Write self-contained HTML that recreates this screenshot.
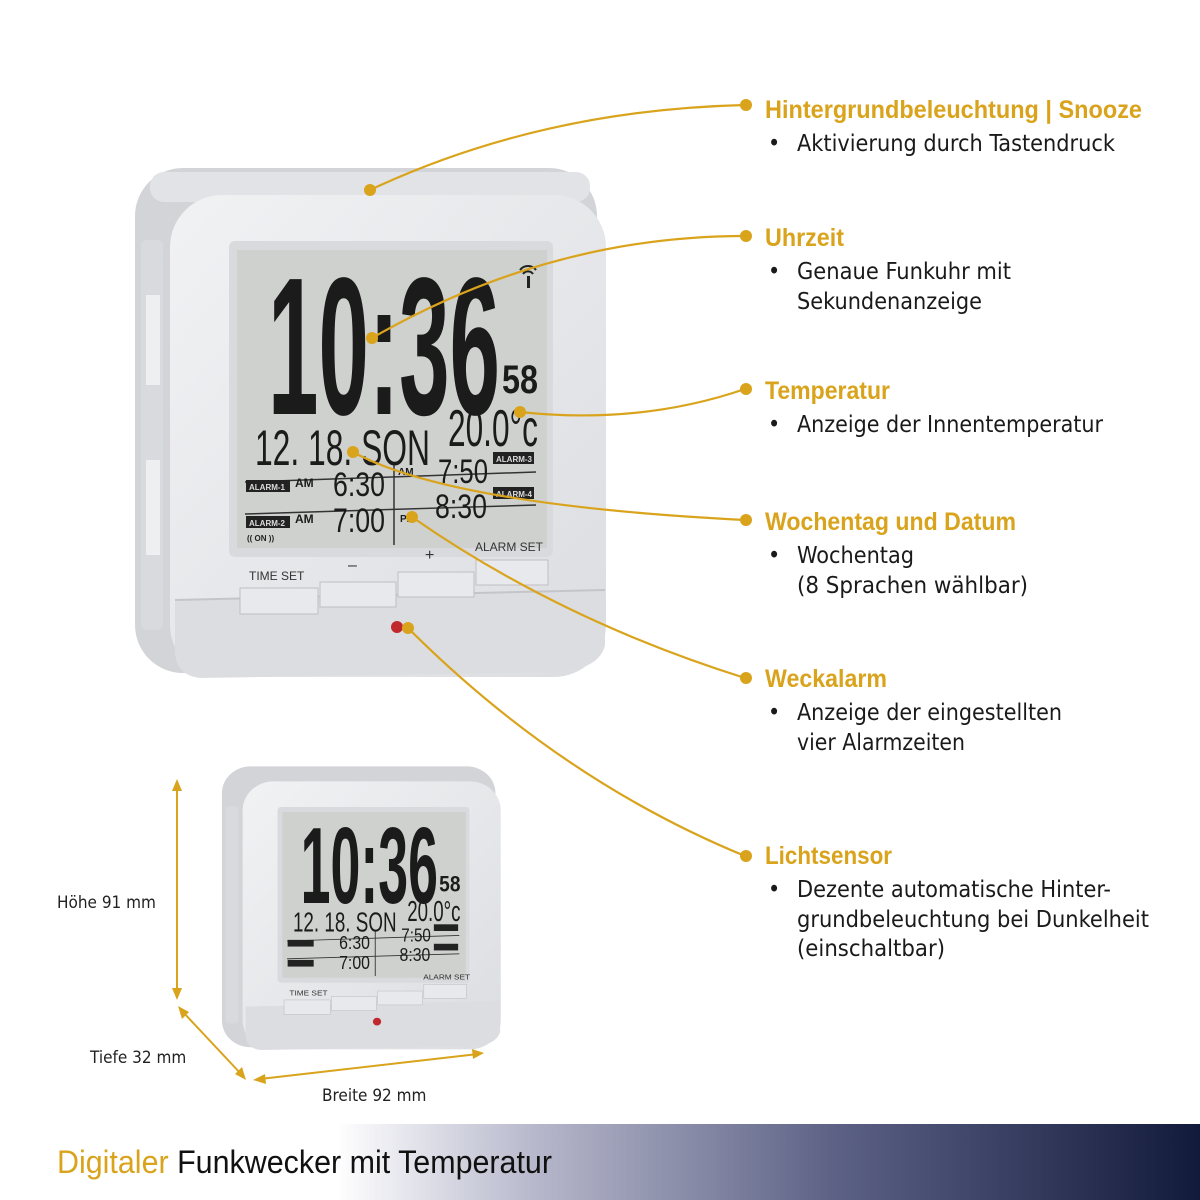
<!DOCTYPE html>
<html><head><meta charset="utf-8"><style>
html,body{margin:0;padding:0;background:#fff;width:1200px;height:1200px;overflow:hidden}
svg{display:block}
.t{font-family:"Liberation Sans",sans-serif;font-weight:bold;fill:#d9a31c;font-size:25px}
.b{font-family:"DejaVu Sans Condensed","Liberation Sans",sans-serif;fill:#1a1a1a;font-size:23px}
.d{font-family:"DejaVu Sans Condensed","Liberation Sans",sans-serif;fill:#222;font-size:17px}
.lcd{font-family:"Liberation Sans",sans-serif;fill:#1b1b1b}
.sm{font-family:"Liberation Sans",sans-serif;font-weight:bold;font-size:8px}
</style></head><body>
<svg width="1200" height="1200" viewBox="0 0 1200 1200" xmlns="http://www.w3.org/2000/svg">
<defs>
<linearGradient id="bar" x1="0" x2="1" y1="0" y2="0">
<stop offset="0" stop-color="#fff"/><stop offset="0.28" stop-color="#fff"/>
<stop offset="0.45" stop-color="#b5b6ca"/><stop offset="0.7" stop-color="#5b6084"/><stop offset="1" stop-color="#121a3b"/>
</linearGradient>
<linearGradient id="face" x1="0" x2="1" y1="0" y2="1">
<stop offset="0" stop-color="#f1f2f4"/><stop offset="1" stop-color="#dcdde1"/>
</linearGradient>
</defs>

<rect x="0" y="1124" width="1200" height="76" fill="url(#bar)"/>
<text x="57" y="1173" font-family="Liberation Sans,sans-serif" font-size="32" textLength="495" lengthAdjust="spacingAndGlyphs"><tspan fill="#d9a31c">Digitaler</tspan><tspan fill="#111"> Funkwecker mit Temperatur</tspan></text>

<!-- BIG CLOCK -->
<g>
<rect x="135" y="168" width="462" height="505" rx="48" fill="#d3d4d8"/>
<rect x="150" y="172" width="440" height="30" rx="14" fill="#e2e3e6"/>
<rect x="170" y="195" width="436" height="482" rx="52" fill="url(#face)"/>
<rect x="141" y="240" width="22" height="390" rx="6" fill="#d9dade"/>
<rect x="146" y="295" width="14" height="90" fill="#eeeff1"/>
<rect x="146" y="460" width="14" height="95" fill="#eeeff1"/>
<rect x="229" y="241" width="324" height="316" rx="6" fill="#d9dadd"/>
<rect x="237" y="250" width="310" height="298" fill="#cfd1cf"/>
<text class="lcd" x="268" y="414" font-size="196" font-weight="bold" textLength="232" lengthAdjust="spacingAndGlyphs">10:36</text>
<text class="lcd" x="502" y="393" font-size="40" font-weight="bold" textLength="36" lengthAdjust="spacingAndGlyphs">58</text>
<text class="lcd" x="255" y="465" font-size="50" textLength="175" lengthAdjust="spacingAndGlyphs">12. 18. SON</text>
<text class="lcd" x="448" y="446" font-size="52" textLength="90" lengthAdjust="spacingAndGlyphs">20.0°c</text>
<path d="M520 270 a10 10 0 0 1 16 0 M523 274 a6 6 0 0 1 10 0" stroke="#222" stroke-width="2" fill="none"/>
<rect x="527" y="276" width="3" height="12" fill="#222"/>
<line x1="245" y1="482" x2="536" y2="472" stroke="#333" stroke-width="1.5"/>
<line x1="245" y1="514" x2="536" y2="505" stroke="#333" stroke-width="1.5"/>
<line x1="394" y1="465" x2="394" y2="545" stroke="#333" stroke-width="1.5"/>
<rect x="246" y="480" width="44" height="12" fill="#222"/><text class="sm" x="249" y="490" fill="#ddd">ALARM-1</text>
<rect x="246" y="516" width="44" height="12" fill="#222"/><text class="sm" x="249" y="526" fill="#ddd">ALARM-2</text>
<text class="sm" x="247" y="541" fill="#222" font-size="11">(( ON ))</text>
<rect x="493" y="452" width="41" height="12" fill="#222"/><text class="sm" x="496" y="462" fill="#ddd">ALARM-3</text>
<rect x="493" y="487" width="41" height="12" fill="#222"/><text class="sm" x="496" y="497" fill="#ddd">ALARM-4</text>
<text class="lcd" x="295" y="487" font-size="12" font-weight="bold">AM</text>
<text class="lcd" x="295" y="523" font-size="12" font-weight="bold">AM</text>
<text class="lcd" x="398" y="475" font-size="10" font-weight="bold">AM</text>
<text class="lcd" x="400" y="522" font-size="10" font-weight="bold">PM</text>
<text class="lcd" x="333" y="496" font-size="34" textLength="52" lengthAdjust="spacingAndGlyphs">6:30</text>
<text class="lcd" x="333" y="532" font-size="34" textLength="52" lengthAdjust="spacingAndGlyphs">7:00</text>
<text class="lcd" x="438" y="483" font-size="34" textLength="50" lengthAdjust="spacingAndGlyphs">7:50</text>
<text class="lcd" x="435" y="518" font-size="34" textLength="52" lengthAdjust="spacingAndGlyphs">8:30</text>
<path d="M175 600 L605 590 L605 645 Q600 668 560 672 L200 678 Q175 675 175 650 Z" fill="#dcdde1"/>
<line x1="175" y1="600" x2="605" y2="590" stroke="#c4c5c9" stroke-width="2"/>
<rect x="240" y="588" width="78" height="26" fill="#e8e9ec" stroke="#bfc0c4"/>
<rect x="320" y="582" width="76" height="25" fill="#e8e9ec" stroke="#bfc0c4"/>
<rect x="398" y="572" width="76" height="25" fill="#e8e9ec" stroke="#bfc0c4"/>
<rect x="476" y="560" width="72" height="25" fill="#e8e9ec" stroke="#bfc0c4"/>
<text x="249" y="580" font-family="Liberation Sans,sans-serif" font-size="12" fill="#333">TIME SET</text>
<text x="348" y="570" font-family="Liberation Sans,sans-serif" font-size="16" fill="#333">–</text>
<text x="425" y="560" font-family="Liberation Sans,sans-serif" font-size="16" fill="#333">+</text>
<text x="475" y="551" font-family="Liberation Sans,sans-serif" font-size="12" fill="#333">ALARM SET</text>
<circle cx="397" cy="627" r="6" fill="#c0282e"/>
</g>

<!-- SMALL CLOCK -->
<g transform="translate(142,673) scale(0.592,0.556)">
<rect x="135" y="168" width="462" height="505" rx="48" fill="#d3d4d8"/>
<rect x="170" y="195" width="436" height="482" rx="52" fill="url(#face)"/>
<rect x="141" y="240" width="22" height="390" rx="6" fill="#d9dade"/>
<rect x="229" y="241" width="324" height="316" rx="6" fill="#d9dadd"/>
<rect x="237" y="250" width="310" height="298" fill="#cfd1cf"/>
<text class="lcd" x="268" y="414" font-size="196" font-weight="bold" textLength="232" lengthAdjust="spacingAndGlyphs">10:36</text>
<text class="lcd" x="502" y="393" font-size="40" font-weight="bold" textLength="36" lengthAdjust="spacingAndGlyphs">58</text>
<text class="lcd" x="255" y="465" font-size="50" textLength="175" lengthAdjust="spacingAndGlyphs">12. 18. SON</text>
<text class="lcd" x="448" y="446" font-size="52" textLength="90" lengthAdjust="spacingAndGlyphs">20.0°c</text>
<line x1="245" y1="482" x2="536" y2="472" stroke="#333" stroke-width="1.5"/>
<line x1="245" y1="514" x2="536" y2="505" stroke="#333" stroke-width="1.5"/>
<line x1="394" y1="465" x2="394" y2="545" stroke="#333" stroke-width="1.5"/>
<rect x="246" y="480" width="44" height="12" fill="#222"/>
<rect x="246" y="516" width="44" height="12" fill="#222"/>
<rect x="493" y="452" width="41" height="12" fill="#222"/>
<rect x="493" y="487" width="41" height="12" fill="#222"/>
<text class="lcd" x="333" y="496" font-size="34" textLength="52" lengthAdjust="spacingAndGlyphs">6:30</text>
<text class="lcd" x="333" y="532" font-size="34" textLength="52" lengthAdjust="spacingAndGlyphs">7:00</text>
<text class="lcd" x="438" y="483" font-size="34" textLength="50" lengthAdjust="spacingAndGlyphs">7:50</text>
<text class="lcd" x="435" y="518" font-size="34" textLength="52" lengthAdjust="spacingAndGlyphs">8:30</text>
<path d="M175 600 L605 590 L605 645 Q600 668 560 672 L200 678 Q175 675 175 650 Z" fill="#dcdde1"/>
<rect x="240" y="588" width="78" height="26" fill="#e8e9ec" stroke="#bfc0c4"/>
<rect x="320" y="582" width="76" height="25" fill="#e8e9ec" stroke="#bfc0c4"/>
<rect x="398" y="572" width="76" height="25" fill="#e8e9ec" stroke="#bfc0c4"/>
<rect x="476" y="560" width="72" height="25" fill="#e8e9ec" stroke="#bfc0c4"/>
<text x="249" y="580" font-family="Liberation Sans,sans-serif" font-size="14" fill="#333">TIME SET</text>
<text x="475" y="551" font-family="Liberation Sans,sans-serif" font-size="14" fill="#333">ALARM SET</text>
<circle cx="397" cy="627" r="7" fill="#c0282e"/>
</g>

<g stroke="#d9a31c" stroke-width="2" fill="#d9a31c">
<line x1="177" y1="785" x2="177" y2="995"/>
<path d="M177 779 l-5 12 h10 z M177 1000 l-5 -12 h10 z" stroke="none"/>
<line x1="182" y1="1011" x2="242" y2="1075"/>
<path d="M178 1006 l4 13 l7 -7 z M246 1080 l-4 -13 l-7 7 z" stroke="none"/>
<line x1="260" y1="1079" x2="478" y2="1054"/>
<path d="M253 1080 l12 -6 l1 10 z M484 1053 l-12 -4 l1 10 z" stroke="none"/>
</g>
<text class="d" x="57" y="908">Höhe 91 mm</text>
<text class="d" x="90" y="1063">Tiefe 32 mm</text>
<text class="d" x="322" y="1101">Breite 92 mm</text>

<g stroke="#d9a31c" stroke-width="2.2" fill="none">
<path d="M370 190 Q540 110 745 105"/>
<path d="M372 338 Q550 236 745 236"/>
<path d="M520 412 Q640 425 745 389"/>
<path d="M353 452 Q450 505 745 520"/>
<path d="M412 517 Q560 620 745 678"/>
<path d="M408 628 Q560 780 745 856"/>
</g>
<g fill="#d9a31c">
<circle cx="370" cy="190" r="6"/><circle cx="746" cy="105" r="6"/>
<circle cx="372" cy="338" r="6"/><circle cx="746" cy="236" r="6"/>
<circle cx="520" cy="412" r="6"/><circle cx="746" cy="389" r="6"/>
<circle cx="353" cy="452" r="6"/><circle cx="746" cy="520" r="6"/>
<circle cx="412" cy="517" r="6"/><circle cx="746" cy="678" r="6"/>
<circle cx="408" cy="628" r="6"/><circle cx="746" cy="856" r="6"/>
</g>

<text class="t" x="765" y="118" textLength="377" lengthAdjust="spacingAndGlyphs">Hintergrundbeleuchtung | Snooze</text>
<text class="b" x="768" y="151">•</text><text class="b" x="797" y="151" textLength="318" lengthAdjust="spacingAndGlyphs">Aktivierung durch Tastendruck</text>

<text class="t" x="765" y="246" textLength="79" lengthAdjust="spacingAndGlyphs">Uhrzeit</text>
<text class="b" x="768" y="279">•</text><text class="b" x="797" y="279" textLength="214" lengthAdjust="spacingAndGlyphs">Genaue Funkuhr mit</text>
<text class="b" x="797" y="309" textLength="185" lengthAdjust="spacingAndGlyphs">Sekundenanzeige</text>

<text class="t" x="765" y="399" textLength="125" lengthAdjust="spacingAndGlyphs">Temperatur</text>
<text class="b" x="768" y="432">•</text><text class="b" x="797" y="432" textLength="306" lengthAdjust="spacingAndGlyphs">Anzeige der Innentemperatur</text>

<text class="t" x="765" y="530" textLength="251" lengthAdjust="spacingAndGlyphs">Wochentag und Datum</text>
<text class="b" x="768" y="563">•</text><text class="b" x="797" y="563" textLength="117" lengthAdjust="spacingAndGlyphs">Wochentag</text>
<text class="b" x="797" y="593" textLength="231" lengthAdjust="spacingAndGlyphs">(8 Sprachen wählbar)</text>

<text class="t" x="765" y="687" textLength="122" lengthAdjust="spacingAndGlyphs">Weckalarm</text>
<text class="b" x="768" y="720">•</text><text class="b" x="797" y="720" textLength="265" lengthAdjust="spacingAndGlyphs">Anzeige der eingestellten</text>
<text class="b" x="797" y="750" textLength="168" lengthAdjust="spacingAndGlyphs">vier Alarmzeiten</text>

<text class="t" x="765" y="864" textLength="127" lengthAdjust="spacingAndGlyphs">Lichtsensor</text>
<text class="b" x="768" y="897">•</text><text class="b" x="797" y="897" textLength="314" lengthAdjust="spacingAndGlyphs">Dezente automatische Hinter-</text>
<text class="b" x="797" y="927" textLength="352" lengthAdjust="spacingAndGlyphs">grundbeleuchtung bei Dunkelheit</text>
<text class="b" x="797" y="956" textLength="148" lengthAdjust="spacingAndGlyphs">(einschaltbar)</text>
</svg>
</body></html>
